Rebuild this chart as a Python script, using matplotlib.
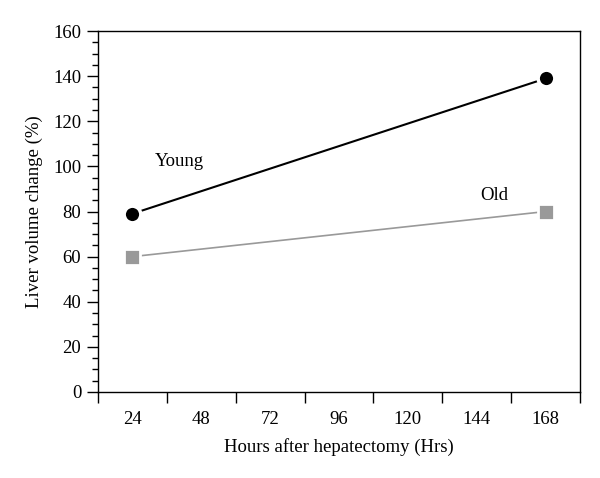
import matplotlib
matplotlib.use("Agg")
import matplotlib.pyplot as plt
from matplotlib.ticker import MultipleLocator, FixedLocator

hours = [24, 168]
young = [79, 139]
old = [60, 80]
xtick_labels = [24, 48, 72, 96, 120, 144, 168]

plt.rcParams['font.family'] = ['Liberation Serif', 'DejaVu Serif']
FS = 13.5
fig = plt.figure(figsize=(6, 4.78), dpi=100)
ax = fig.add_axes([0.163, 0.18, 0.804, 0.755])

ax.plot(hours, young, '-', color='black', lw=1.5, marker='o', ms=12,
        mfc='black', mec='white', mew=2.5, zorder=3)
ax.plot(hours, old, '-', color='#999999', lw=1.2, marker='s', ms=11.5,
        mfc='#999999', mec='white', mew=2, zorder=3)

ax.text(40.5, 102, 'Young', fontsize=FS, ha='center', va='center')
ax.text(150, 87, 'Old', fontsize=FS, ha='center', va='center')

ax.set_xlim(12, 180)
ax.set_ylim(0, 160)
# tick marks between labels, labels without marks
ax.xaxis.set_major_locator(FixedLocator([12 + 24 * i for i in range(8)]))
ax.set_xticklabels([])
ax.xaxis.set_minor_locator(FixedLocator(xtick_labels))
ax.set_xticklabels([str(v) for v in xtick_labels], minor=True)
ax.tick_params(axis='x', which='major', length=8, width=1, direction='out', labelbottom=False)
ax.tick_params(axis='x', which='minor', length=0, labelsize=FS, pad=14)

ax.yaxis.set_major_locator(MultipleLocator(20))
ax.yaxis.set_minor_locator(MultipleLocator(5))
ax.tick_params(axis='y', which='major', length=8, width=1, direction='out', labelsize=FS, pad=4)
ax.tick_params(axis='y', which='minor', length=4, width=1, direction='out')

for s in ax.spines.values():
    s.set_linewidth(1.0)

ax.set_xlabel('Hours after hepatectomy (Hrs)', fontsize=FS, labelpad=7)
ax.set_ylabel('Liver volume change (%)', fontsize=FS, labelpad=7)

fig.savefig('out.png', dpi=100)
